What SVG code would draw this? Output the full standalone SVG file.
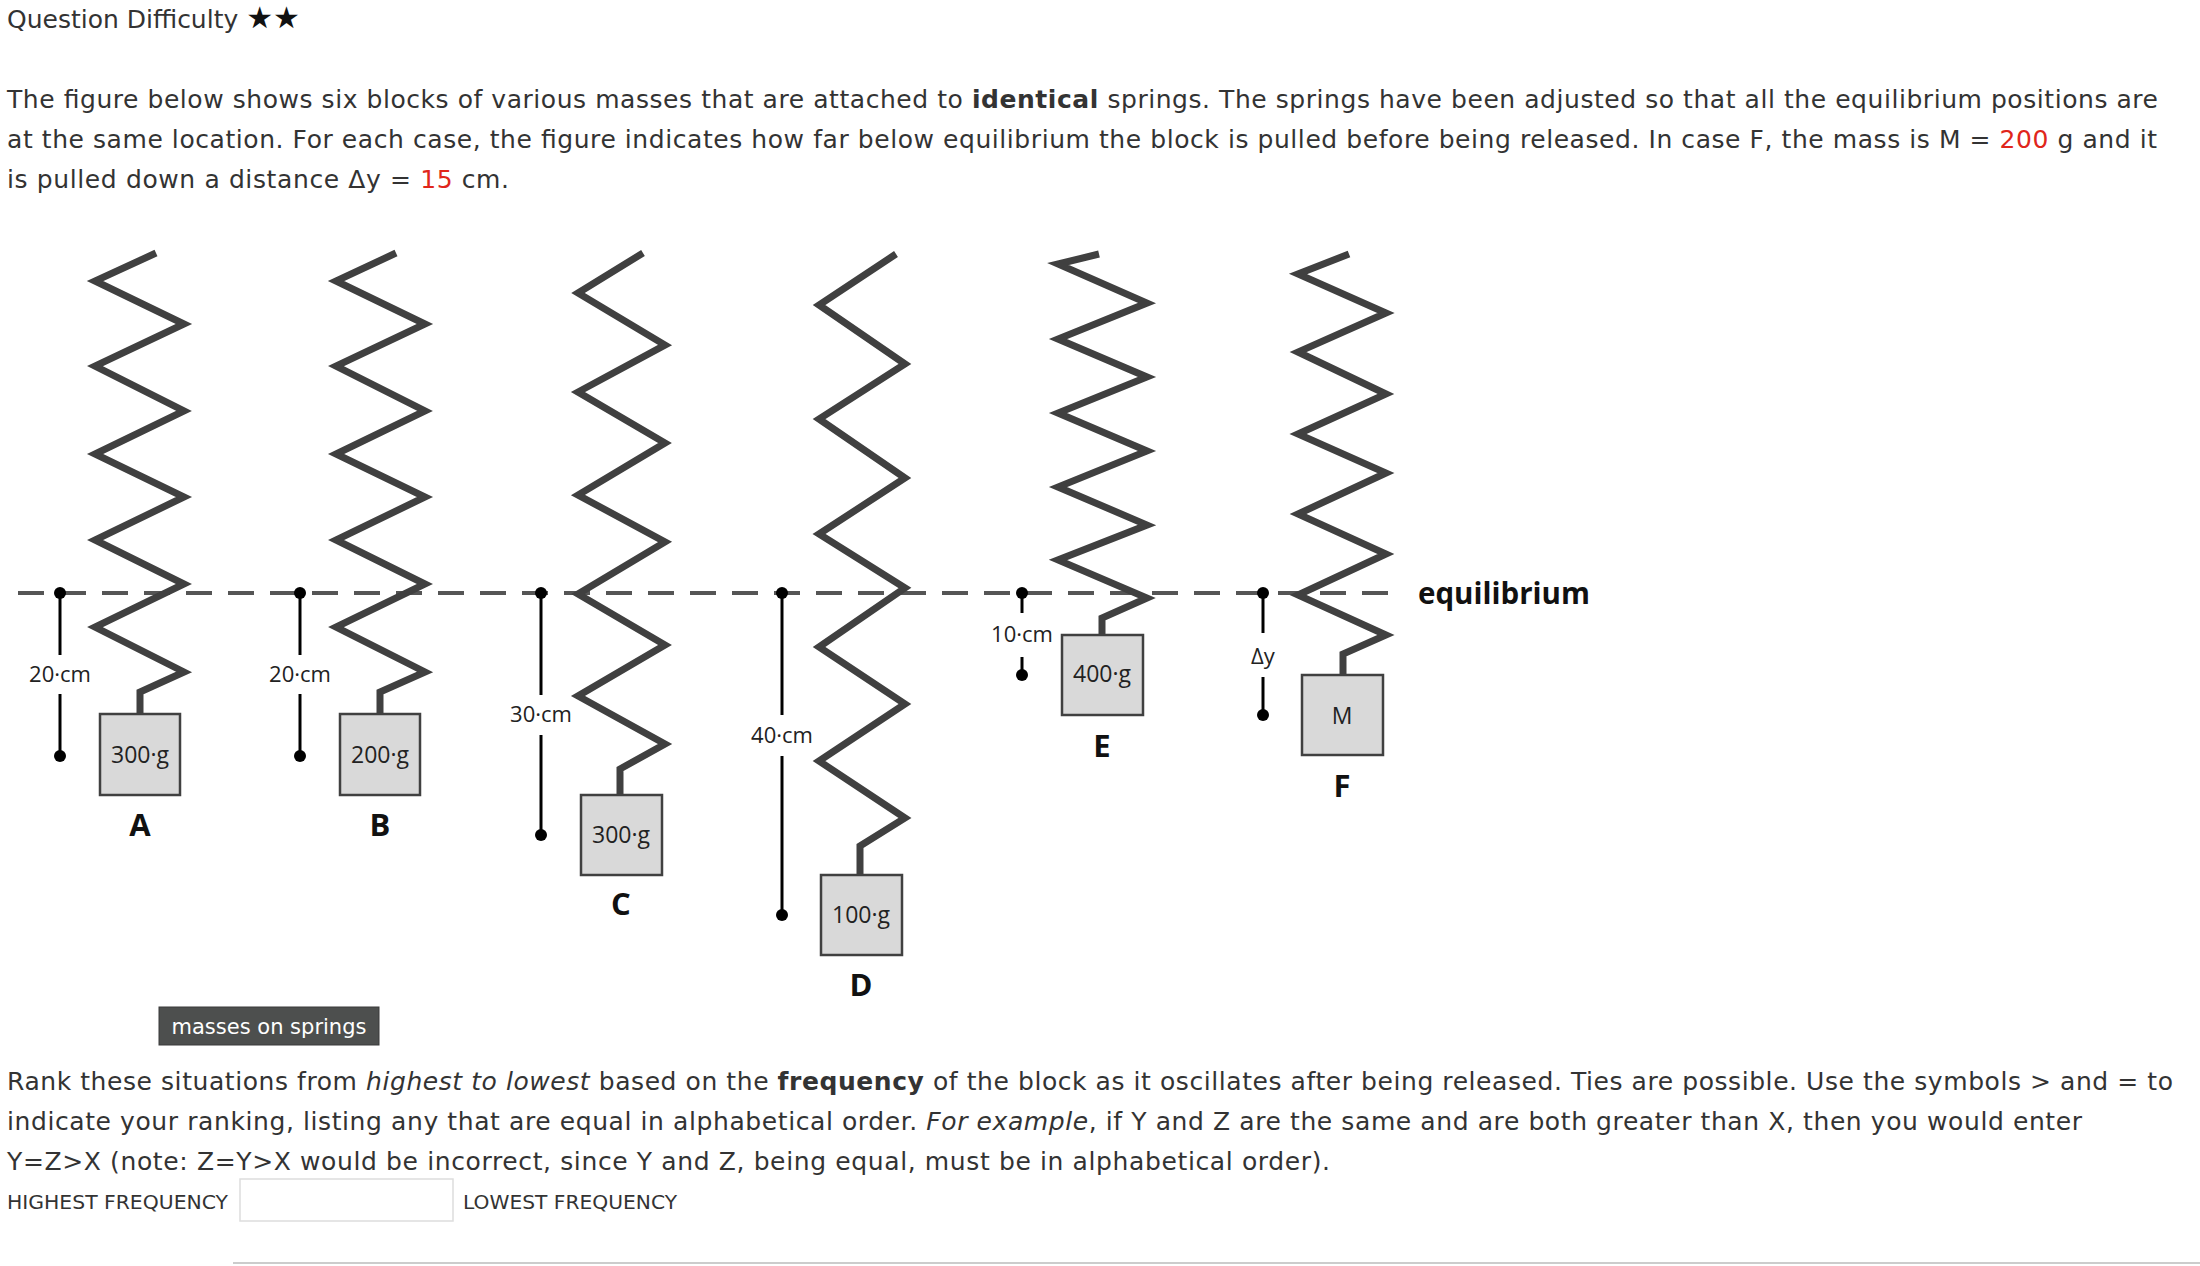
<svg xmlns="http://www.w3.org/2000/svg" width="2200" height="1266" viewBox="0 0 2200 1266">
<style>
.t{font-family:"DejaVu Sans","Verdana",sans-serif;font-size:25px;fill:#333}
.sp{fill:none;stroke:#404040;stroke-width:7;stroke-linejoin:miter}
.box{fill:#d9d9d9;stroke:#404040;stroke-width:2.5}
.bl{font-family:"Open Sans","DejaVu Sans",sans-serif;font-size:23px;fill:#222;text-anchor:middle}
.lab{font-family:"Open Sans","DejaVu Sans",sans-serif;font-size:31px;font-weight:bold;fill:#111;text-anchor:middle}
.dim{stroke:#000;stroke-width:3}
.dl{font-family:"Open Sans","DejaVu Sans",sans-serif;font-size:22px;fill:#222;text-anchor:middle}
.red{fill:#e0261b}
</style>
<rect width="2200" height="1266" fill="#fff"/>
<text class="t" x="7" y="28">Question Difficulty <tspan font-size="30" fill="#111">★★</tspan></text>
<text class="t" x="7" y="108" textLength="2151" lengthAdjust="spacing">The figure below shows six blocks of various masses that are attached to <tspan font-weight="bold">identical</tspan> springs. The springs have been adjusted so that all the equilibrium positions are</text>
<text class="t" x="7" y="148" textLength="2150" lengthAdjust="spacing">at the same location. For each case, the figure indicates how far below equilibrium the block is pulled before being released. In case F, the mass is M = <tspan class="red">200</tspan> g and it</text>
<text class="t" x="7" y="188" textLength="502" lengthAdjust="spacing">is pulled down a distance Δy = <tspan class="red">15</tspan> cm.</text>

<g id="connectors">
<line x1="18" y1="593" x2="1403" y2="593" stroke="#555" stroke-width="4" stroke-dasharray="26,16"/>
</g>
<text x="1418" y="604" font-family="Open Sans, DejaVu Sans, sans-serif" font-size="31" font-weight="bold" fill="#111" textLength="172" lengthAdjust="spacingAndGlyphs">equilibrium</text>

<g id="A">
<polyline class="sp" points="156,253 95,281 184,324 95,366 184,411 95,454 184,497 95,540 184,584 95,627 184,672 140,692 140,714"/>
<rect class="box" x="100" y="714" width="80" height="81"/>
<text class="bl" x="140" y="763">300·g</text>
<text class="lab" x="140" y="836">A</text>
<line class="dim" x1="60" y1="593" x2="60" y2="655"/><line class="dim" x1="60" y1="694" x2="60" y2="756"/>
<circle cx="60" cy="593" r="6"/><circle cx="60" cy="756" r="6"/>
<text class="dl" x="60" y="682">20·cm</text>
</g>
<g id="B">
<polyline class="sp" points="396,253 336,281 425,324 336,366 425,411 336,454 425,497 336,540 425,584 336,627 425,672 380,692 380,714"/>
<rect class="box" x="340" y="714" width="80" height="81"/>
<text class="bl" x="380" y="763">200·g</text>
<text class="lab" x="380" y="836">B</text>
<line class="dim" x1="300" y1="593" x2="300" y2="655"/><line class="dim" x1="300" y1="694" x2="300" y2="756"/>
<circle cx="300" cy="593" r="6"/><circle cx="300" cy="756" r="6"/>
<text class="dl" x="300" y="682">20·cm</text>
</g>
<g id="C">
<polyline class="sp" points="643,253 578,293 665,345 578,392 665,443 578,495 665,542 578,594 665,645 578,696 665,744 620,769 620,795"/>
<rect class="box" x="581" y="795" width="81" height="80"/>
<text class="bl" x="621" y="843">300·g</text>
<text class="lab" x="621" y="915">C</text>
<line class="dim" x1="541" y1="593" x2="541" y2="695"/><line class="dim" x1="541" y1="735" x2="541" y2="835"/>
<circle cx="541" cy="593" r="6"/><circle cx="541" cy="835" r="6"/>
<text class="dl" x="541" y="722">30·cm</text>
</g>
<g id="D">
<polyline class="sp" points="896,254 819,305 905,364 819,419 905,478 819,534 905,588 819,647 905,704 819,761 905,818 860,846 860,875"/>
<rect class="box" x="821" y="875" width="81" height="80"/>
<text class="bl" x="861" y="923">100·g</text>
<text class="lab" x="861" y="996">D</text>
<line class="dim" x1="782" y1="593" x2="782" y2="715"/><line class="dim" x1="782" y1="756" x2="782" y2="915"/>
<circle cx="782" cy="593" r="6"/><circle cx="782" cy="915" r="6"/>
<text class="dl" x="782" y="743">40·cm</text>
</g>
<g id="E">
<polyline class="sp" points="1099,254 1058,264 1147,303 1058,339 1147,377 1058,413 1147,451 1058,487 1147,525 1058,560 1147,598 1102,618 1102,635"/>
<rect class="box" x="1062" y="635" width="81" height="80"/>
<text class="bl" x="1102" y="682">400·g</text>
<text class="lab" x="1102" y="757">E</text>
<line class="dim" x1="1022" y1="593" x2="1022" y2="613"/><line class="dim" x1="1022" y1="657" x2="1022" y2="675"/>
<circle cx="1022" cy="593" r="6"/><circle cx="1022" cy="675" r="6"/>
<text class="dl" x="1022" y="642">10·cm</text>
</g>
<g id="F">
<polyline class="sp" points="1349,254 1298,274 1386,313 1298,352 1386,394 1298,434 1386,473 1298,514 1386,554 1298,595 1386,635 1343,654 1343,675"/>
<rect class="box" x="1302" y="675" width="81" height="80"/>
<text class="bl" x="1342" y="724" font-size="27">M</text>
<text class="lab" x="1342" y="797">F</text>
<line class="dim" x1="1263" y1="593" x2="1263" y2="633"/><line class="dim" x1="1263" y1="677" x2="1263" y2="715"/>
<circle cx="1263" cy="593" r="6"/><circle cx="1263" cy="715" r="6"/>
<text class="dl" x="1263" y="664" font-size="26">Δy</text>
</g>

<g id="tooltip">
<rect x="159" y="1007" width="220" height="38" fill="#4d4f4e" stroke="#3a3a3a"/>
<text x="269" y="1034" font-family="DejaVu Sans, sans-serif" font-size="21" fill="#fff" text-anchor="middle">masses on springs</text>
</g>
<text class="t" x="7" y="1090" textLength="2166" lengthAdjust="spacing">Rank these situations from <tspan font-style="italic">highest to lowest</tspan> based on the <tspan font-weight="bold">frequency</tspan> of the block as it oscillates after being released. Ties are possible. Use the symbols &gt; and = to</text>
<text class="t" x="7" y="1130" textLength="2075" lengthAdjust="spacing">indicate your ranking, listing any that are equal in alphabetical order. <tspan font-style="italic">For example</tspan>, if Y and Z are the same and are both greater than X, then you would enter</text>
<text class="t" x="7" y="1170" textLength="1323" lengthAdjust="spacing">Y=Z&gt;X (note: Z=Y&gt;X would be incorrect, since Y and Z, being equal, must be in alphabetical order).</text>
<text x="7" y="1209" font-family="DejaVu Sans, sans-serif" font-size="20" fill="#333" textLength="221" lengthAdjust="spacingAndGlyphs">HIGHEST FREQUENCY</text>
<rect x="240" y="1179" width="213" height="42" fill="#fff" stroke="#ddd" stroke-width="1.5"/>
<text x="463" y="1209" font-family="DejaVu Sans, sans-serif" font-size="20" fill="#333" textLength="214" lengthAdjust="spacingAndGlyphs">LOWEST FREQUENCY</text>
<line x1="233" y1="1263" x2="2200" y2="1263" stroke="#ccc" stroke-width="2"/>
</svg>
